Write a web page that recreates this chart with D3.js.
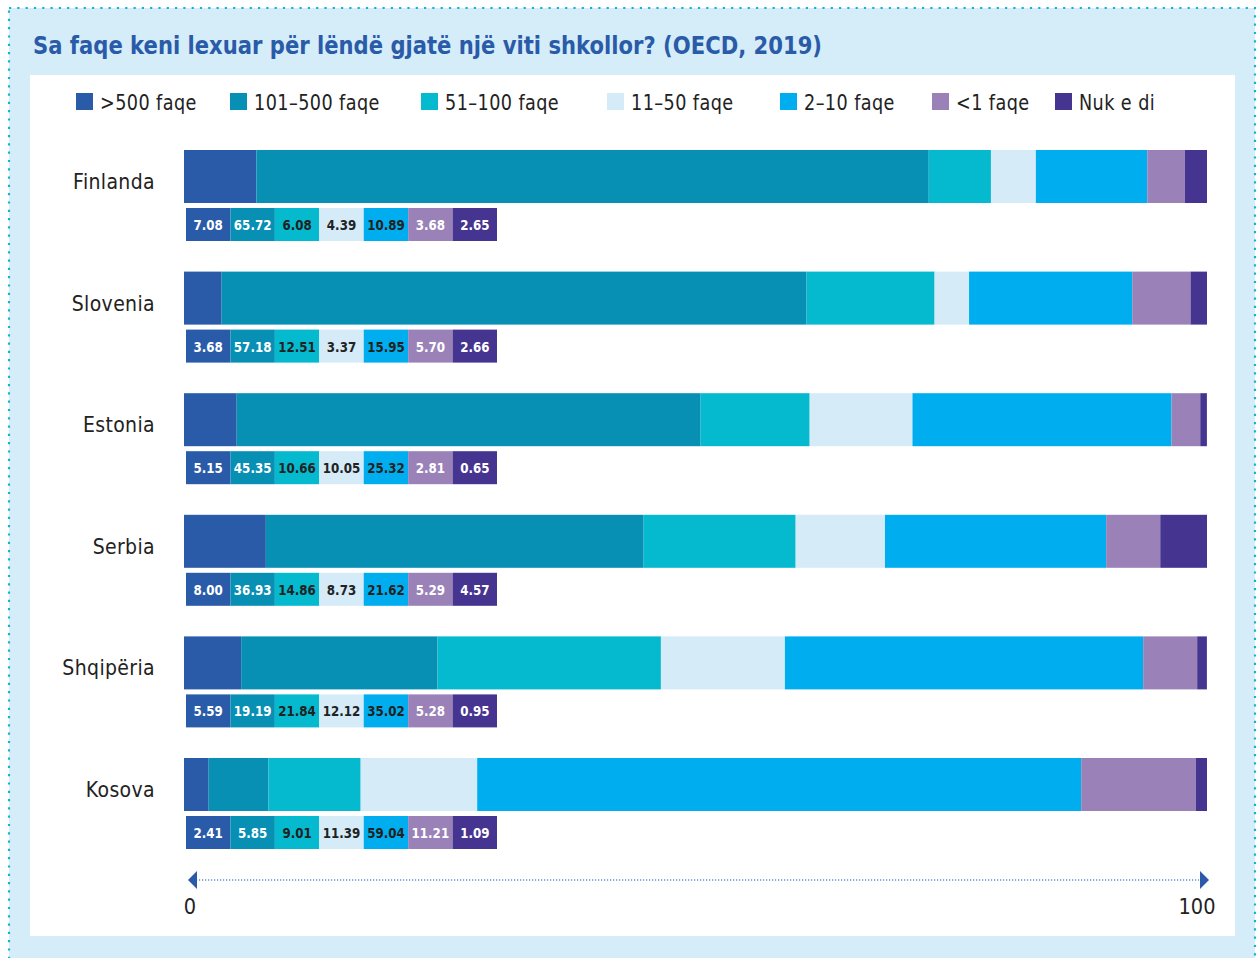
<!DOCTYPE html>
<html><head><meta charset="utf-8">
<script src="https://cdn.jsdelivr.net/npm/d3@7"></script>
<style>
body{margin:0;background:#fff;}
svg{display:block;}
text{font-family:"DejaVu Sans","Liberation Sans",sans-serif;}
</style></head>
<body><svg id="c" width="1260" height="958"></svg>
<script>
const title = "Sa faqe keni lexuar për lëndë gjatë një viti shkollor? (OECD, 2019)";
const categories = ["Finlanda","Slovenia","Estonia","Serbia","Shqipëria","Kosova"];
const seriesNames = [">500 faqe","101-500 faqe","51-100 faqe","11-50 faqe","2-10 faqe","<1 faqe","Nuk e di"];
const seriesColors = ["#2a5ba8","#088fb4","#05b9cf","#d5ebf8","#00aeef","#9a82b8","#463491"];
const labelColors = ["#fff","#fff","#222","#222","#222","#fff","#fff"];
const values = [
  [7.08,65.72,6.08,4.39,10.89,3.68,2.65],
  [3.68,57.18,12.51,3.37,15.95,5.70,2.66],
  [5.15,45.35,10.66,10.05,25.32,2.81,0.65],
  [8.00,36.93,14.86,8.73,21.62,5.29,4.57],
  [5.59,19.19,21.84,12.12,35.02,5.28,0.95],
  [2.41,5.85,9.01,11.39,59.04,11.21,1.09]
];
const axisTicks = [0,100];

const svg = d3.select("#c");
function ctext(x, y, str, size, sx, anchor, fill, weight, ls){
  const t = svg.append("text").attr("transform",`translate(${x},${y}) scale(${sx},1)`)
    .attr("text-anchor",anchor||"start").attr("font-size",size).attr("fill",fill||"#222")
    .attr("font-weight",weight||"normal").text(str);
  if (ls) t.attr("letter-spacing",ls);
  return t;
}

svg.append("rect").attr("x",0).attr("y",0).attr("width",1260).attr("height",958).attr("fill","#fff");
svg.append("rect").attr("x",9).attr("y",8).attr("width",1246).attr("height",960).attr("fill","#d5ecf9");
svg.append("rect").attr("x",9).attr("y",8).attr("width",1246).attr("height",960).attr("fill","none")
  .attr("stroke","#12b5cc").attr("stroke-width",2.2).attr("stroke-dasharray","2.2 6.1");
svg.append("rect").attr("x",30).attr("y",75).attr("width",1205).attr("height",861).attr("fill","#fff");

const t = svg.append("text").attr("x",33).attr("y",54).text(title)
  .attr("fill","#2a5ba8").attr("font-size",25).attr("font-weight","bold");
const tw = t.node().getComputedTextLength();
if (Math.abs(tw-789) > 10) t.attr("textLength",789).attr("lengthAdjust","spacingAndGlyphs");

const legendX = [76,230,421,607,780,932,1055];
seriesNames.forEach((s,i)=>{
  svg.append("rect").attr("x",legendX[i]).attr("y",93).attr("width",17).attr("height",17).attr("fill",seriesColors[i]);
  ctext(legendX[i]+24, 110, s.replace("-","–"), 21, 0.84, "start", "#222", "normal", 0.5);
});

const x = d3.scaleLinear().domain([0,100]).range([184,1207]);
const step = 121.6;
const barH = 53;
const boxX = d3.scaleBand().domain(d3.range(7)).range([186,497]);

categories.forEach((c,ci)=>{
  const y0 = 150 + ci*step;
  const g = svg.append("g");
  let acc = 0;
  values[ci].forEach((v,si)=>{
    const x0 = x(acc), x1 = x(Math.min(100, acc+v));
    g.append("rect").attr("x",x0).attr("y",y0).attr("width",Math.max(0,x1-x0)).attr("height",barH).attr("fill",seriesColors[si]);
    acc += v;
  });
  ctext(155, y0+39, c, 21, 0.9, "end", "#222", "normal", 0.4);
  values[ci].forEach((v,si)=>{
    svg.append("rect").attr("x",boxX(si)).attr("y",y0+58).attr("width",boxX.bandwidth()).attr("height",33).attr("fill",seriesColors[si]);
    ctext(boxX(si)+boxX.bandwidth()/2, y0+58+22, v.toFixed(2), 14.5, 0.82, "middle", labelColors[si], "bold");
  });
});

const ay = 880;
svg.append("line").attr("x1",x(0)+12).attr("x2",x(100)-8).attr("y1",ay).attr("y2",ay)
  .attr("stroke","#8aa8d8").attr("stroke-width",2).attr("stroke-dasharray","1.2 1.8");
svg.append("path").attr("d",`M${x(0)+13},${ay-9} L${x(0)+4},${ay} L${x(0)+13},${ay+9} Z`).attr("fill","#2a5ba8");
svg.append("path").attr("d",`M${x(100)-7},${ay-9} L${x(100)+2},${ay} L${x(100)-7},${ay+9} Z`).attr("fill","#2a5ba8");
axisTicks.forEach((tk,i)=>{
  ctext(i===0 ? x(tk)+6 : x(tk)-10, 914, tk, 22, 0.88, "middle", "#222", "normal");
});
</script></body></html>
